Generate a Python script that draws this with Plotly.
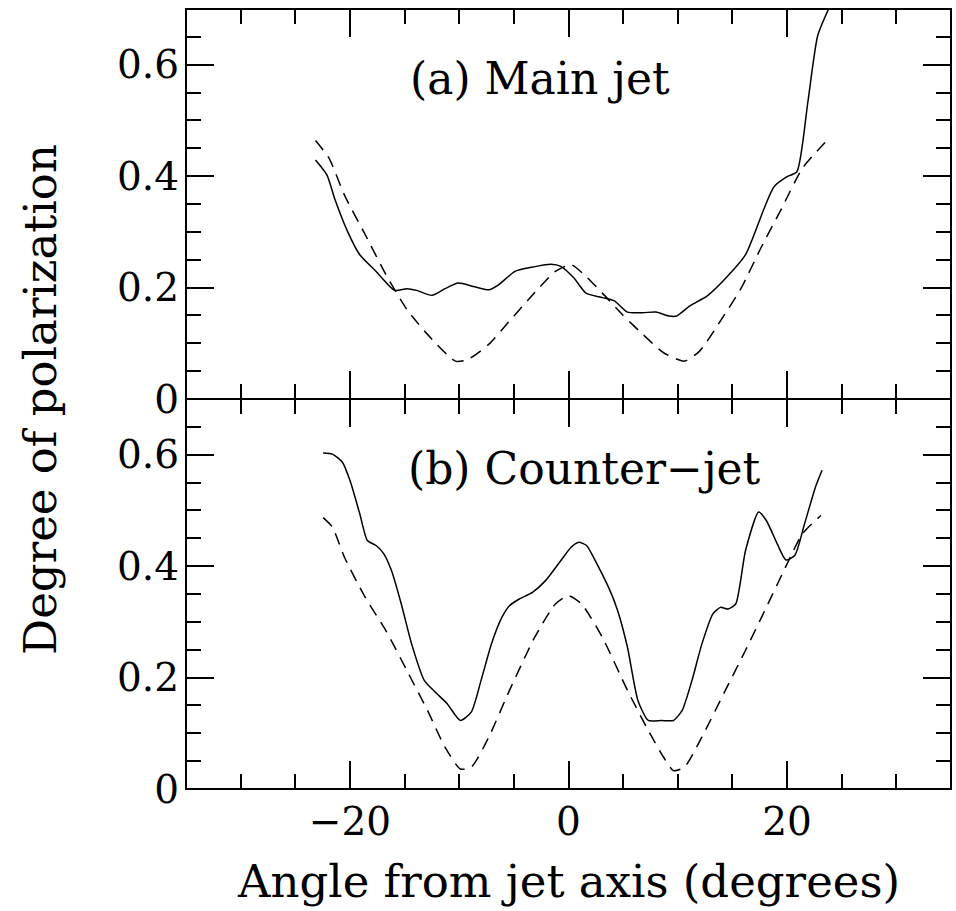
import plotly.graph_objects as go

# Angle (degrees) and degree of polarization, panel (a): main jet
main_obs_x = [-23.15, -22.1, -21.4, -20.2, -19.1, -17.6, -15.9, -14.8, -13.9, -12.5,
              -11.3, -10.1, -8.7, -7.3, -6.4, -4.9, -3.5, -1.6, -0.7, 0.5,
              1.6, 3.1, 4.2, 5.4, 6.8, 8.0, 9.2, 9.9, 11.1, 12.7,
              14.4, 16.2, 17.9, 18.8, 20.0, 20.9, 21.9, 22.8, 23.8]
main_obs_y = [0.429, 0.402, 0.36, 0.30, 0.259, 0.229, 0.195, 0.198, 0.195, 0.186,
              0.198, 0.208, 0.202, 0.196, 0.205, 0.229, 0.236, 0.242, 0.238, 0.217,
              0.19, 0.182, 0.176, 0.156, 0.155, 0.156, 0.149, 0.149, 0.167, 0.185,
              0.217, 0.259, 0.342, 0.381, 0.399, 0.408, 0.533, 0.652, 0.70]

main_model_x = [-23.15, -21.9, -20.5, -18.6, -16.7, -14.8, -12.9, -10.35, -9.2, -7.3,
                -5.4, -3.5, -1.2, 0.24, 1.6, 3.1, 4.9, 6.8, 8.7, 10.6,
                12.0, 13.9, 15.8, 17.6, 19.5, 21.4, 23.8]
main_model_y = [0.464, 0.432, 0.366, 0.295, 0.223, 0.161, 0.116, 0.068, 0.071, 0.098,
                0.140, 0.182, 0.229, 0.241, 0.220, 0.190, 0.152, 0.116, 0.083, 0.068,
                0.086, 0.140, 0.199, 0.271, 0.342, 0.414, 0.467]

# Panel (b): counter-jet
counter_obs_x = [-22.45, -21.6, -20.7, -20.0, -19.1, -18.4, -17.6, -16.9, -16.2, -15.3,
                 -14.35, -13.2, -12.2, -11.1, -9.9, -8.9, -8.0, -7.06, -6.1, -5.4,
                 -4.5, -3.3, -2.1, -0.7, 0.24, 0.94, 1.65, 2.6, 3.8, 4.5,
                 5.4, 6.35, 7.3, 8.5, 9.6, 10.4, 11.3, 12.2, 13.2, 13.9,
                 14.6, 15.3, 16.2, 17.4, 18.1, 19.1, 19.9, 20.7, 21.6, 22.6, 23.2]
counter_obs_y = [0.603, 0.601, 0.587, 0.554, 0.494, 0.446, 0.437, 0.422, 0.392, 0.332,
                 0.260, 0.195, 0.174, 0.153, 0.123, 0.138, 0.195, 0.260, 0.308, 0.329,
                 0.341, 0.353, 0.374, 0.410, 0.434, 0.443, 0.437, 0.404, 0.356, 0.320,
                 0.254, 0.159, 0.123, 0.123, 0.123, 0.141, 0.195, 0.260, 0.314, 0.326,
                 0.323, 0.332, 0.428, 0.497, 0.482, 0.440, 0.411, 0.419, 0.476, 0.542, 0.572]

counter_model_x = [-22.45, -21.6, -20.5, -18.6, -16.7, -14.8, -12.9, -11.3, -9.9, -8.9,
                   -7.3, -5.4, -3.1, -1.2, 0.0, 1.2, 3.1, 5.4, 7.3, 8.7,
                   9.6, 10.6, 12.2, 14.35, 16.2, 18.1, 20.0, 21.4, 23.1]
counter_model_y = [0.487, 0.470, 0.416, 0.344, 0.284, 0.213, 0.141, 0.075, 0.036, 0.039,
                   0.093, 0.177, 0.272, 0.332, 0.347, 0.332, 0.272, 0.177, 0.105, 0.057,
                   0.033, 0.039, 0.093, 0.177, 0.249, 0.326, 0.404, 0.458, 0.491]

x_ticks = [-20, 0, 20]
x_tick_text = ["\u221220", "0", "20"]
y_ticks = [0, 0.2, 0.4, 0.6]
y_tick_text = ["0", "0.2", "0.4", "0.6"]

FONT = "DejaVu Serif"
INK = "black"

solid = dict(color=INK, width=1.5, shape="spline", smoothing=0.6)
dashed = dict(color=INK, width=1.5, dash="12px,8px", shape="spline", smoothing=0.6)

fig = go.Figure()
fig.add_trace(go.Scatter(x=main_obs_x, y=main_obs_y, mode="lines", line=solid,
                         xaxis="x2", yaxis="y2", showlegend=False))
fig.add_trace(go.Scatter(x=main_model_x, y=main_model_y, mode="lines", line=dashed,
                         xaxis="x2", yaxis="y2", showlegend=False))
fig.add_trace(go.Scatter(x=counter_obs_x, y=counter_obs_y, mode="lines", line=solid,
                         xaxis="x", yaxis="y", showlegend=False))
fig.add_trace(go.Scatter(x=counter_model_x, y=counter_model_y, mode="lines", line=dashed,
                         xaxis="x", yaxis="y", showlegend=False))

# Axis lines are replaced by frame shapes below so the shared border stays thin
common_x = dict(range=[-35, 35], showgrid=False, zeroline=False, showline=False,
                mirror="ticks", ticks="inside",
                ticklen=28, tickwidth=1.5, tickcolor=INK,
                tickvals=x_ticks, ticktext=x_tick_text,
                minor=dict(dtick=5, tick0=0, ticks="inside", ticklen=15,
                           tickwidth=1.5, tickcolor=INK),
                tickfont=dict(family=FONT, size=39, color=INK))
common_y = dict(range=[0, 0.7], showgrid=False, zeroline=False, showline=False,
                mirror="ticks", ticks="inside",
                ticklen=28, tickwidth=1.5, tickcolor=INK,
                tickvals=y_ticks, ticktext=y_tick_text,
                minor=dict(dtick=0.05, tick0=0, ticks="inside", ticklen=15,
                           tickwidth=1.5, tickcolor=INK),
                tickfont=dict(family=FONT, size=39, color=INK),
                ticklabelstandoff=6)

frame = dict(color=INK, width=2)

fig.update_layout(
    width=956, height=911,
    margin=dict(l=186, r=5, t=9, b=122),
    paper_bgcolor="white", plot_bgcolor="white",
    xaxis=dict(common_x, anchor="y", ticklabelstandoff=6),
    xaxis2=dict(common_x, anchor="y2", matches="x", showticklabels=False),
    yaxis=dict(common_y, domain=[0, 0.5], anchor="x"),
    yaxis2=dict(common_y, domain=[0.5, 1], anchor="x2"),
    shapes=[
        dict(type="rect", xref="paper", yref="paper", x0=0, x1=1, y0=0, y1=1,
             line=frame, fillcolor="rgba(0,0,0,0)", layer="above"),
        dict(type="line", xref="paper", yref="paper", x0=0, x1=1, y0=0.5, y1=0.5,
             line=frame, layer="above"),
    ],
    annotations=[
        dict(text="(a) Main jet", x=-2.65, y=0.575, xref="x2", yref="y2",
             showarrow=False, xanchor="center", yanchor="middle",
             font=dict(family=FONT, size=44, color=INK)),
        dict(text="(b) Counter\u2212jet", x=1.5, y=0.575, xref="x", yref="y",
             showarrow=False, xanchor="center", yanchor="middle",
             font=dict(family=FONT, size=44, color=INK)),
        dict(text="Angle from jet axis (degrees)", x=0.5, y=-0.119,
             xref="paper", yref="paper", showarrow=False,
             xanchor="center", yanchor="middle",
             font=dict(family=FONT, size=45, color=INK)),
        dict(text="Degree of polarization", x=-0.191, y=0.5,
             xref="paper", yref="paper", showarrow=False, textangle=-90,
             xanchor="center", yanchor="middle",
             font=dict(family=FONT, size=45, color=INK)),
    ],
)

fig.write_html("out.html")
